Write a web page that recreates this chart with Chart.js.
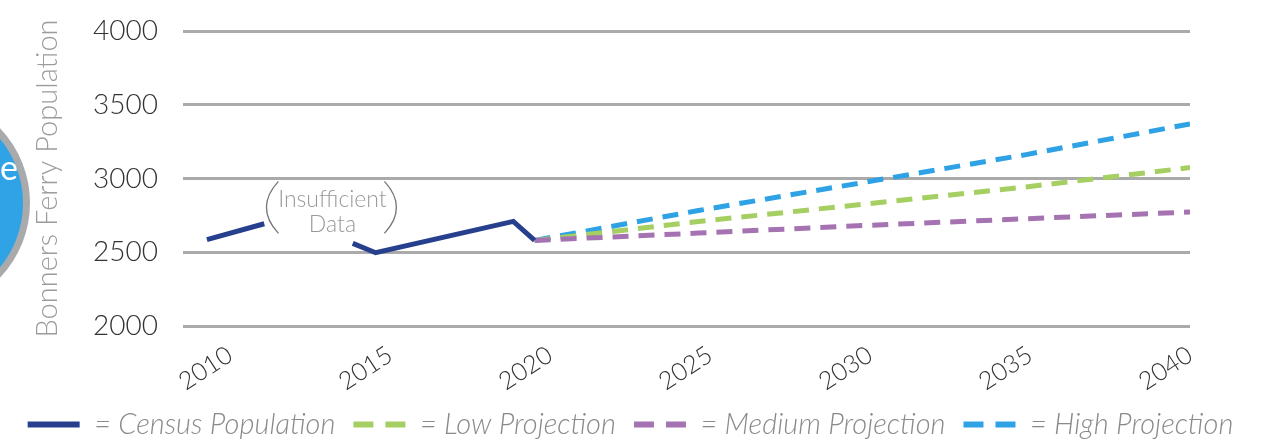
<!DOCTYPE html>
<html><head><meta charset="utf-8">
<script src="https://cdn.jsdelivr.net/npm/chart.js@4/dist/chart.umd.min.js"></script>
<style>html,body{margin:0;padding:0;background:#fff;overflow:hidden}#wrap{width:1261px;height:440px;position:relative}</style>
</head><body><div id="wrap"><canvas id="c"></canvas></div>
<script>
const censusYears = [2010, 2011.75, 2013, 2014.45, 2015.15, 2019.35, 2020];
const censusValues = [2586, 2693, null, 2560, 2497, 2709, 2580];
const projYears = [2020, 2025, 2030, 2035, 2040];
const lowValues = [2580, 2708, 2825, 2943, 3074];
const mediumValues = [2580, 2630, 2681, 2727, 2773];
const highValues = [2580, 2783, 2972, 3162, 3370];
const tickYears = [2010, 2015, 2020, 2025, 2030, 2035, 2040];
const seriesNames = ['= Census Population', '= Low Projection', '= Medium Projection', '= High Projection'];
const yTitle = 'Bonners Ferry Population';
const annotationLines = ['Insufficient', 'Data'];
const annotationAt = {x: 2013.83, y: 2804};
const badgeText = 'e';

const pts = (xs, ys) => xs.map((x, i) => ({x: x, y: ys[i]}));

const decor = {
  id: 'decor',
  beforeDraw(chart) {
    const ctx = chart.ctx;
    ctx.save();
    ctx.beginPath();
    ctx.arc(-78, 203, 104.5, 0, Math.PI * 2);
    ctx.fillStyle = '#2FA3E6';
    ctx.fill();
    ctx.lineWidth = 7;
    ctx.strokeStyle = '#A9AAAC';
    ctx.stroke();
    ctx.fillStyle = '#ffffff';
    ctx.font = '400 34px Lato';
    ctx.textAlign = 'right';
    ctx.textBaseline = 'alphabetic';
    ctx.fillText(badgeText, 18, 180);
    ctx.restore();
  },
  afterDatasetsDraw(chart) {
    const ctx = chart.ctx;
    const cx = chart.scales.x.getPixelForValue(annotationAt.x);
    const cy = chart.scales.y.getPixelForValue(annotationAt.y);
    ctx.save();
    ctx.fillStyle = '#9a9a9a';
    ctx.font = '300 23px Lato';
    ctx.textAlign = 'center';
    ctx.textBaseline = 'middle';
    ctx.fillText(annotationLines[0], cx, cy - 8);
    ctx.fillText(annotationLines[1], cx, cy + 17);
    ctx.strokeStyle = '#777';
    ctx.lineWidth = 1.3;
    ctx.beginPath();
    ctx.moveTo(cx - 54, cy - 26);
    ctx.quadraticCurveTo(cx - 78, cy, cx - 54, cy + 26);
    ctx.moveTo(cx + 52, cy - 26);
    ctx.quadraticCurveTo(cx + 76, cy, cx + 52, cy + 26);
    ctx.stroke();
    ctx.restore();
  }
};

const ds = (label, data, color, dash, order) => ({
  label: label, data: data, borderColor: color, backgroundColor: color,
  borderWidth: 5, borderDash: dash, pointRadius: 0, pointHoverRadius: 0,
  pointStyle: 'line', tension: 0, spanGaps: false, fill: false, order: order,
  borderCapStyle: 'butt', borderJoinStyle: 'miter'
});

new Chart(document.getElementById('c'), {
  type: 'line',
  data: {
    datasets: [
      ds(seriesNames[0], pts(censusYears, censusValues), '#27408E', [], 0),
      ds(seriesNames[1], pts(projYears, lowValues), '#A5CF62', [16, 10], 2),
      ds(seriesNames[2], pts(projYears, mediumValues), '#A673B2', [16, 10], 1),
      ds(seriesNames[3], pts(projYears, highValues), '#2FA2E5', [16, 10], 3)
    ]
  },
  plugins: [decor],
  options: {
    responsive: true, maintainAspectRatio: false, animation: false,
    layout: {padding: {top: 31, left: 0, right: 0, bottom: -9}},
    plugins: {
      tooltip: {enabled: false},
      legend: {
        position: 'bottom',
        labels: {
          usePointStyle: true, pointStyleWidth: 52, padding: 18,
          sort: (a, b) => a.datasetIndex - b.datasetIndex,
          generateLabels: chart => chart.data.datasets.map((d, i) => ({
            text: d.label, datasetIndex: i, fillStyle: d.borderColor, strokeStyle: d.borderColor,
            lineWidth: 6, lineDash: d.borderDash.length ? [20, 12] : [], lineCap: 'butt',
            pointStyle: 'line', hidden: false, fontColor: '#8a8a8a'
          })),
          color: '#8a8a8a', font: {family: 'Lato', size: 29, style: 'italic', weight: '300'}
        }
      }
    },
    scales: {
      x: {type: 'linear', display: false, min: 2009.27, max: 2040},
      xl: {
        type: 'linear', position: 'bottom', min: 2008.53, max: 2040,
        afterBuildTicks: s => { s.ticks = tickYears.map(v => ({value: v})); },
        afterFit: s => { s.height = 66; },
        grid: {display: false}, border: {display: false},
        ticks: {minRotation: 33, maxRotation: 33, padding: 6, autoSkip: false,
          color: '#333', font: {family: 'Lato', size: 25, weight: '300'},
          callback: v => String(v)}
      },
      y: {
        type: 'linear', position: 'left', min: 2000, max: 4000,
        afterBuildTicks: s => { s.ticks = [2000, 2500, 3000, 3500, 4000].map(v => ({value: v})); },
        afterFit: s => { s.width = 183; },
        grid: {color: '#AAAAAA', lineWidth: 3, drawTicks: true, tickLength: 25, tickColor: 'rgba(0,0,0,0)'},
        border: {display: false},
        ticks: {padding: 0, color: '#333', font: {family: 'Lato', size: 28, weight: '300'}, callback: v => String(v)},
        title: {display: true, text: yTitle, color: '#9c9c9c', padding: {top: 30, bottom: 0},
          font: {family: 'Lato', size: 29, weight: '300'}}
      },
      yr: {
        type: 'linear', position: 'right', min: 0, max: 1, display: true,
        afterFit: s => { s.width = 71; },
        grid: {display: false}, border: {display: false}, ticks: {display: false}
      }
    }
  }
});
</script></body></html>
